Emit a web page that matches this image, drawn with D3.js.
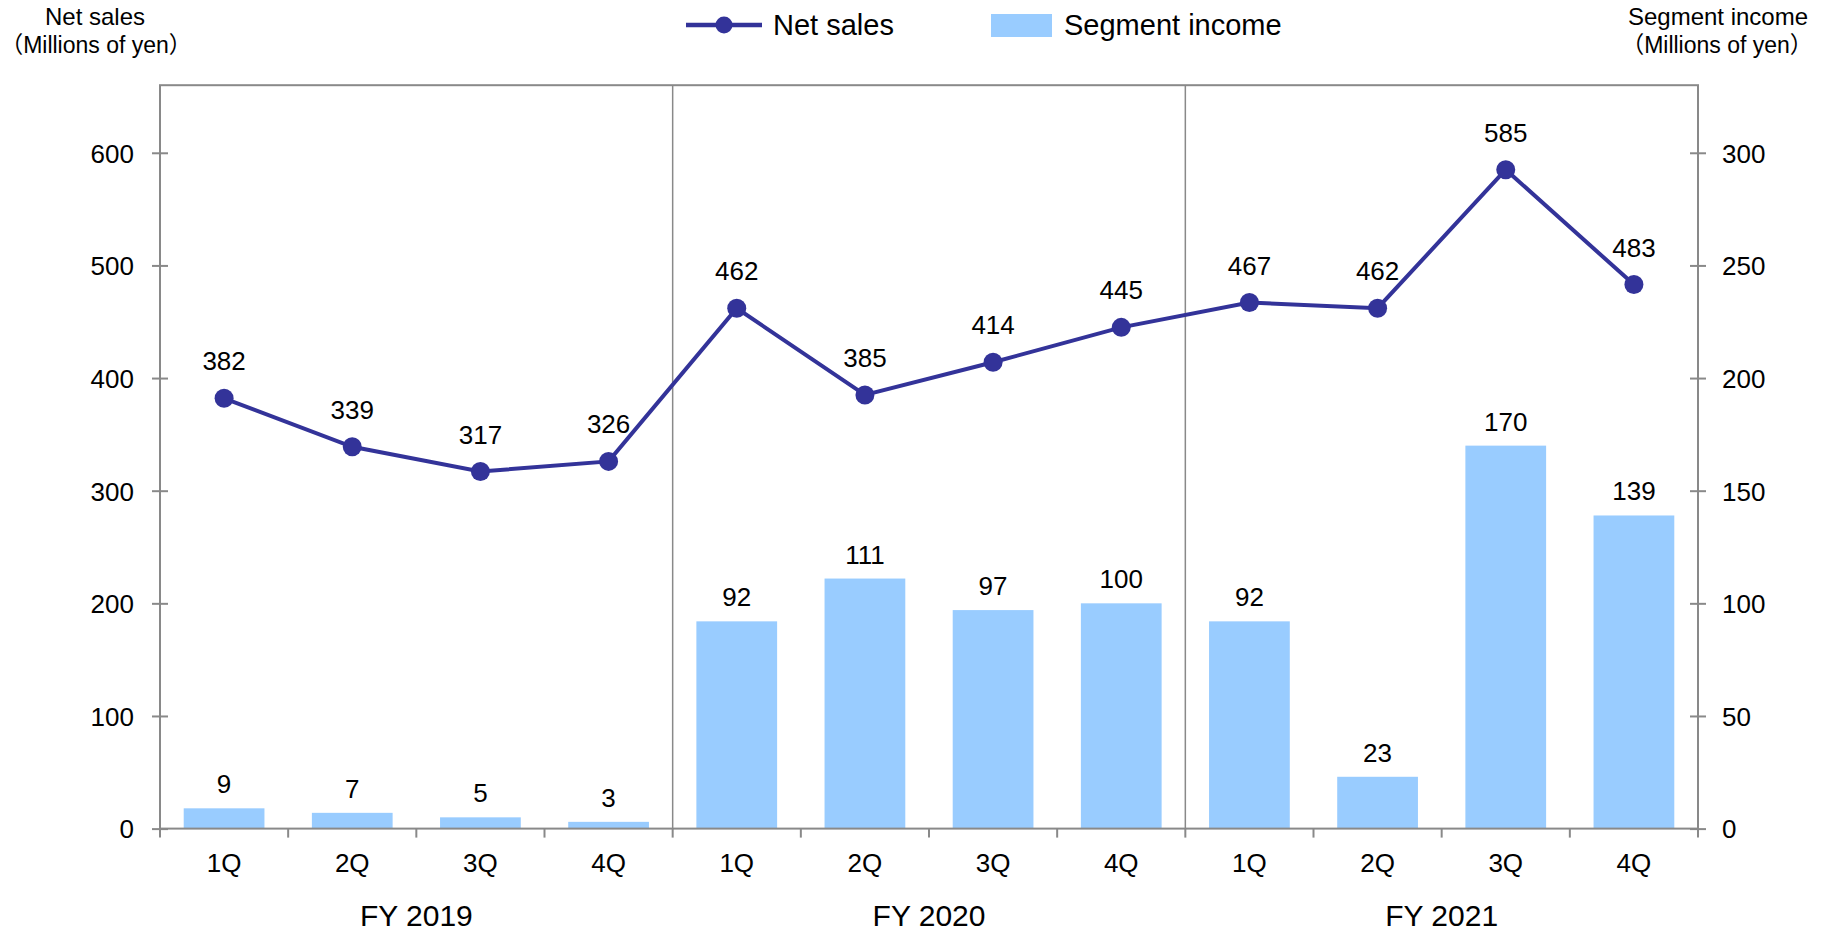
<!DOCTYPE html>
<html>
<head>
<meta charset="utf-8">
<script src="https://cdn.jsdelivr.net/npm/d3@7"></script>
<style>
  html, body { margin: 0; padding: 0; background: #fff; }
  svg { display: block; }
  text { font-family: "Liberation Sans", Arial, "Noto Sans CJK JP", sans-serif; fill: #000; }
  .cjk { font-family: "Noto Sans CJK JP", sans-serif; }
</style>
</head>
<body>
<svg id="chart" width="1830" height="935"></svg>
<script>
// ---- Data ----
const fiscalYears = ["FY 2019", "FY 2020", "FY 2021"];
const quarters = ["1Q", "2Q", "3Q", "4Q"];
const netSales = [382, 339, 317, 326, 462, 385, 414, 445, 467, 462, 585, 483];
const segmentIncome = [9, 7, 5, 3, 92, 111, 97, 100, 92, 23, 170, 139];
const leftTicks = [0, 100, 200, 300, 400, 500, 600];
const rightTicks = [0, 50, 100, 150, 200, 250, 300];
const leftMax = 660;
const rightMax = 330;

// category keys built from years x quarters
const categories = [];
fiscalYears.forEach(fy => quarters.forEach(q => categories.push({ fy, q, key: fy + " " + q })));

// ---- Layout ----
const svg = d3.select("#chart");
const L = 160, R = 1698, T = 85.2, B = 828.6;
const frameColor = "#898989";
const lineColor = "#333399";
const barColor = "#99CCFF";

const x = d3.scaleBand().domain(categories.map(c => c.key)).range([L, R]).paddingInner(0).paddingOuter(0);
const yL = d3.scaleLinear().domain([0, leftMax]).range([B, T]);
const yR = d3.scaleLinear().domain([0, rightMax]).range([B, T]);
const barW = x.bandwidth() * 0.63;

// ---- Bars ----
svg.append("g").selectAll("rect")
  .data(categories)
  .join("rect")
  .attr("x", d => x(d.key) + (x.bandwidth() - barW) / 2)
  .attr("y", (d, i) => yR(segmentIncome[i]))
  .attr("width", barW)
  .attr("height", (d, i) => B - yR(segmentIncome[i]))
  .attr("fill", barColor);

// ---- Frame ----
svg.append("rect")
  .attr("x", L).attr("y", T).attr("width", R - L).attr("height", B - T)
  .attr("fill", "none").attr("stroke", frameColor).attr("stroke-width", 2);

// year dividers
const dividerKeys = categories.filter((c, i) => i > 0 && c.q === quarters[0]).map(c => c.key);
svg.append("g").selectAll("line")
  .data(dividerKeys)
  .join("line")
  .attr("x1", d => x(d)).attr("x2", d => x(d))
  .attr("y1", T).attr("y2", B)
  .attr("stroke", frameColor).attr("stroke-width", 1.5);

// ---- Left axis ----
const gL = svg.append("g").attr("transform", `translate(${L},0)`)
  .call(d3.axisLeft(yL).tickValues(leftTicks).tickSize(8).tickPadding(18).tickFormat(d3.format("d")));
gL.select(".domain").remove();
gL.selectAll(".tick line").attr("x1", 8).attr("x2", -8).attr("stroke", frameColor).attr("stroke-width", 2);
gL.selectAll(".tick text").attr("font-size", 26).attr("dy", "0.36em");
gL.attr("font-family", null);

// ---- Right axis ----
const gR = svg.append("g").attr("transform", `translate(${R},0)`)
  .call(d3.axisRight(yR).tickValues(rightTicks).tickSize(8).tickPadding(16).tickFormat(d3.format("d")));
gR.select(".domain").remove();
gR.selectAll(".tick line").attr("x1", -8).attr("x2", 8).attr("stroke", frameColor).attr("stroke-width", 2);
gR.selectAll(".tick text").attr("font-size", 26).attr("dy", "0.36em");
gR.attr("font-family", null);

// ---- X axis ticks (at category boundaries) ----
const boundaries = categories.map(c => x(c.key)).concat([R]);
svg.append("g").selectAll("line")
  .data(boundaries)
  .join("line")
  .attr("x1", d => d).attr("x2", d => d)
  .attr("y1", B).attr("y2", B + 9)
  .attr("stroke", frameColor).attr("stroke-width", 2);

// quarter labels
svg.append("g").selectAll("text")
  .data(categories)
  .join("text")
  .attr("x", d => x(d.key) + x.bandwidth() / 2)
  .attr("y", 872)
  .attr("text-anchor", "middle")
  .attr("font-size", 26)
  .text(d => d.q);

// fiscal year labels
svg.append("g").selectAll("text")
  .data(fiscalYears)
  .join("text")
  .attr("x", fy => {
    const ks = categories.filter(c => c.fy === fy);
    return (x(ks[0].key) + x(ks[ks.length - 1].key) + x.bandwidth()) / 2;
  })
  .attr("y", 926)
  .attr("text-anchor", "middle")
  .attr("font-size", 30)
  .text(d => d);

// ---- Segment income labels ----
svg.append("g").selectAll("text")
  .data(categories)
  .join("text")
  .attr("x", d => x(d.key) + x.bandwidth() / 2)
  .attr("y", (d, i) => yR(segmentIncome[i]) - 15)
  .attr("text-anchor", "middle")
  .attr("font-size", 26)
  .text((d, i) => segmentIncome[i]);

// ---- Net sales line ----
const line = d3.line()
  .x(d => x(d.key) + x.bandwidth() / 2)
  .y((d, i) => yL(netSales[i]));
svg.append("path")
  .datum(categories)
  .attr("d", line)
  .attr("fill", "none")
  .attr("stroke", lineColor)
  .attr("stroke-width", 4);

svg.append("g").selectAll("circle")
  .data(categories)
  .join("circle")
  .attr("cx", d => x(d.key) + x.bandwidth() / 2)
  .attr("cy", (d, i) => yL(netSales[i]))
  .attr("r", 9.5)
  .attr("fill", lineColor);

svg.append("g").selectAll("text")
  .data(categories)
  .join("text")
  .attr("x", d => x(d.key) + x.bandwidth() / 2)
  .attr("y", (d, i) => yL(netSales[i]) - 28)
  .attr("text-anchor", "middle")
  .attr("font-size", 26)
  .text((d, i) => netSales[i]);

// ---- Axis titles ----
function unitLine(sel, cx, y) {
  const t = sel.append("text").attr("text-anchor", "middle").attr("font-size", 23).attr("x", cx).attr("y", y);
  t.append("tspan").attr("class", "cjk").text("（");
  t.append("tspan").text("Millions of yen");
  t.append("tspan").attr("class", "cjk").text("）");
}
svg.append("text").attr("text-anchor", "middle").attr("font-size", 24)
  .attr("x", 95).attr("y", 25).text("Net sales");
unitLine(svg, 96, 53);

svg.append("text").attr("text-anchor", "middle").attr("font-size", 24)
  .attr("x", 1718).attr("y", 25).text("Segment income");
unitLine(svg, 1717, 53);

// ---- Legend ----
const lg = svg.append("g");
lg.append("line").attr("x1", 686).attr("x2", 762).attr("y1", 25).attr("y2", 25)
  .attr("stroke", lineColor).attr("stroke-width", 4.5);
lg.append("circle").attr("cx", 724).attr("cy", 25).attr("r", 8.5).attr("fill", lineColor);
lg.append("text").attr("x", 773).attr("y", 35).attr("font-size", 29).text("Net sales");
lg.append("rect").attr("x", 991).attr("y", 14).attr("width", 61).attr("height", 23).attr("fill", barColor);
lg.append("text").attr("x", 1064).attr("y", 35).attr("font-size", 29).text("Segment income");
</script>
</body>
</html>
